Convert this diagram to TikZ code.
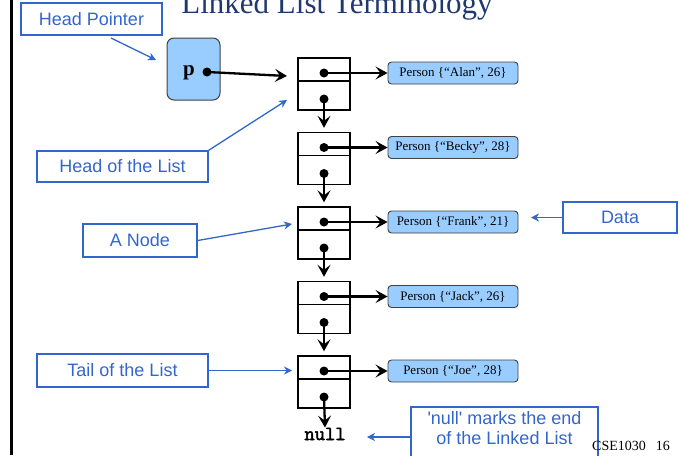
\documentclass[tikz,border=0pt]{standalone}
\usepackage{fontspec}
\setmainfont{Liberation Serif}
\newfontfamily\arialfont{Liberation Sans}
\newfontfamily\codeboldfont[FakeBold=2.5]{Latin Modern Mono}
\usetikzlibrary{arrows.meta}
\definecolor{callblue}{RGB}{51,102,204}
\definecolor{cellfill}{RGB}{153,204,255}
\definecolor{titleblue}{RGB}{31,56,110}

\tikzset{
  callout/.style={draw=callblue, line width=1.5pt, text=callblue,
    font=\arialfont\fontsize{18}{20}\selectfont, inner sep=0pt},
  callarrow/.style={draw=callblue, line width=1.3pt,
    -{Stealth[length=8pt,width=8pt,inset=2.5pt]}},
  listcell/.style={draw, line width=1.4pt, minimum width=52pt,
    minimum height=52pt, inner sep=0pt},
  dot/.style={circle, fill=black, inner sep=0pt, minimum size=9pt},
  ptr/.style={line width=2.3pt, -{Stealth[length=12pt,width=13pt,inset=5pt]}},
  person/.style={draw=black!75, line width=0.9pt, fill=cellfill, rounded corners=3.5pt,
    minimum width=130pt, minimum height=22pt, inner sep=0pt,
    font=\fontsize{13}{15}\selectfont},
}

\begin{document}
\begin{tikzpicture}[x=1pt,y=-1pt]
\useasboundingbox (0,0) rectangle (679,455);
\clip (0,0) rectangle (679,455);

% slide edge and title
\draw[line width=3pt] (11,0) -- (11,455);
\node[anchor=base, text=titleblue, font=\fontsize{31}{34}\selectfont, inner sep=0pt]
  (title) at (337,13) {Linked List Terminology};

% head pointer variable
\node[draw=black!75, line width=1pt, fill=cellfill, rounded corners=7pt,
  minimum width=53pt, minimum height=62pt, inner sep=0pt] (pbox) at (193.5,69) {};
\node[anchor=base, font=\bfseries\fontsize{21}{23}\selectfont, inner sep=0pt]
  (plabel) at (189,75) {p};
\node[dot] (pdot) at (207,72) {};
\coordinate (pin) at (287,76);
\draw[ptr] (pdot.center) -- (pin);

% list cells
\foreach \i/\name/\who/\age in {0/a/Alan/26, 1/b/Becky/28, 2/c/Frank/21, 3/d/Jack/26, 4/e/Joe/28}{
  \pgfmathsetmacro{\cy}{84+74.5*\i}
  \node[listcell] (n\name) at (324,\cy) {};
  \draw[line width=1.4pt] ([yshift=3pt]n\name.west) -- ([yshift=3pt]n\name.east);
  \node[dot] (t\name) at (324,\cy-11) {};
  \node[dot] (b\name) at (324,\cy+15) {};
  \node[person] (v\name) at (453,\cy-11) {Person \{``\who'', \age\}};
  \draw[ptr] (t\name.center) -- (v\name.west);
}
\draw[ptr, shorten >=4pt] (ba.center) -- (nb.north);
\draw[ptr, shorten >=4pt] (bb.center) -- (nc.north);
\draw[ptr, shorten >=4pt] (bc.center) -- (nd.north);
\draw[ptr, shorten >=4pt] (bd.center) -- (ne.north);

\node[anchor=base, font=\codeboldfont\fontsize{20}{22}\selectfont, inner sep=0pt]
  (nullword) at (325,440) {null};
\draw[ptr] (be.center) -- (nullword.north);

% callouts
\node[callout, minimum width=141pt, minimum height=32pt] (hp) at (91.5,19) {Head Pointer};
\coordinate (hpA) at (111,38);
\coordinate (hpB) at (156,60);
\draw[callarrow] (hpA) -- (hpB);

\node[callout, minimum width=171pt, minimum height=31pt] (hl) at (122.5,166.5) {Head of the List};
\coordinate (hlB) at (287,100);
\draw[callarrow] (hl.north east) -- (hlB);

\node[callout, minimum width=114pt, minimum height=33pt] (an) at (140,240.5) {A Node};
\coordinate (anB) at (292,224);
\draw[callarrow] (an.east) -- (anB);

\node[callout, minimum width=171pt, minimum height=33pt] (tl) at (122.5,370.5) {Tail of the List};
\coordinate (tlB) at (292,370.5);
\draw[callarrow] (tl.east) -- (tlB);

\node[callout, minimum width=114pt, minimum height=31pt] (data) at (620,217.5) {Data};
\coordinate (dataB) at (531,217.5);
\draw[callarrow] (data.west) -- (dataB);

\node[callout, anchor=north, minimum width=187pt, align=center, inner ysep=5pt,
  font=\arialfont\fontsize{18}{20}\selectfont] (nullnote) at (504.5,406)
  {'null' marks the end\\of the Linked List\\ \strut};
\coordinate (nnA) at (411,437);
\coordinate (nnB) at (367,437);
\draw[callarrow] (nnA) -- (nnB);

\node[anchor=base west, font=\fontsize{14}{16}\selectfont, inner sep=0pt]
  (pageno) at (592,450) {CSE1030\hspace{10pt}16};
\end{tikzpicture}
\end{document}
